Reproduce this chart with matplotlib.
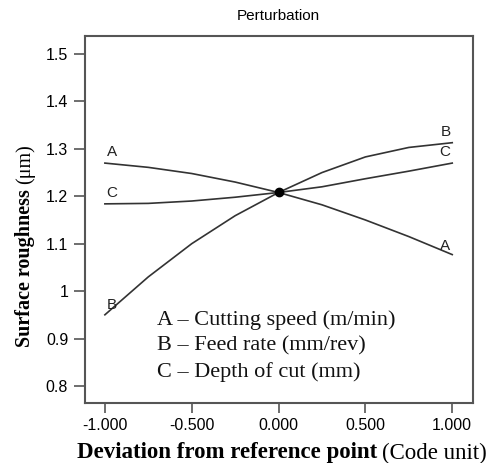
import matplotlib
matplotlib.use("Agg")
import matplotlib.pyplot as plt

x = [-1.0, -0.75, -0.5, -0.25, 0.0, 0.25, 0.5, 0.75, 1.0]
series_A = [1.270, 1.261, 1.248, 1.230, 1.208, 1.182, 1.150, 1.115, 1.077]
series_B = [0.950, 1.030, 1.100, 1.159, 1.208, 1.250, 1.283, 1.303, 1.313]
series_C = [1.184, 1.185, 1.190, 1.198, 1.208, 1.220, 1.237, 1.253, 1.270]
ref_point = (0.0, 1.208)
xticks = [-1.0, -0.5, 0.0, 0.5, 1.0]
xtick_labels = ["-1.000", "-0.500", "0.000", "0.500", "1.000"]
yticks = [0.8, 0.9, 1.0, 1.1, 1.2, 1.3, 1.4, 1.5]
ytick_labels = ["0.8", "0.9", "1", "1.1", "1.2", "1.3", "1.4", "1.5"]
legend_lines = ["A \u2013 Cutting speed (m/min)", "B \u2013 Feed rate (mm/rev)", "C \u2013 Depth of cut (mm)"]

sans = ["Liberation Sans", "DejaVu Sans"]
serif = ["Liberation Serif", "DejaVu Serif"]

fig = plt.figure(figsize=(4.88, 4.63), dpi=100)
ax = fig.add_axes([0.174, 0.1296, 0.7947, 0.7926])

lc = "#333333"
ax.plot(x, series_A, color=lc, lw=1.2)
ax.plot(x, series_B, color=lc, lw=1.2)
ax.plot(x, series_C, color=lc, lw=1.2)
ax.plot([ref_point[0]], [ref_point[1]], "o", color="black", ms=6)

ax.set_xlim(-1.115, 1.118)
ax.set_ylim(0.764, 1.538)
ax.set_xticks(xticks)
ax.set_xticklabels(xtick_labels, family=sans, fontsize=11.5)
ax.set_yticks(yticks)
ax.set_yticklabels(ytick_labels, family=sans, fontsize=11.5)
ax.tick_params(axis="y", direction="out", length=8, width=1.2, color="#555555", pad=4)
ax.tick_params(axis="x", direction="out", length=7, width=1.2, color="#555555", pad=4)
for s in ax.spines.values():
    s.set_color("#555555")
    s.set_linewidth(1.5)

# curve labels
lab = dict(family=sans, fontsize=11, color="#222222")
ax.text(-0.99, series_A[0] + 0.008, "A", ha="left", va="bottom", **lab)
ax.text(-0.99, series_C[0] + 0.008, "C", ha="left", va="bottom", **lab)
ax.text(-0.99, series_B[0] + 0.005, "B", ha="left", va="bottom", **lab)
ax.text(0.99, series_B[-1] + 0.008, "B", ha="right", va="bottom", **lab)
ax.text(0.99, series_C[-1] + 0.008, "C", ha="right", va="bottom", **lab)
ax.text(0.99, series_A[-1] + 0.003, "A", ha="right", va="bottom", **lab)

# legend text
for i, t in enumerate(legend_lines):
    ax.text(-0.698, 0.939 - i * 0.055, t, family=serif, fontsize=16,
            ha="left", va="center", color="#111111")

fig.text(0.571, 0.965, "Perturbation", family=sans, fontsize=11, ha="center", va="center")

# axis labels with bold + normal parts
fig.canvas.draw()
r = fig.canvas.get_renderer()
t1 = fig.text(0.158, 0.0216, "Deviation from reference point", family=serif,
              fontweight="bold", fontsize=16.5, ha="left", va="center")
bb = t1.get_window_extent(r)
fig.text((bb.x1 + 5) / fig.bbox.width, 0.0216, "(Code unit)", family=serif,
         fontsize=16.5, ha="left", va="center")

t2 = fig.text(0.051, 0.25, "Surface roughness", family=serif, fontweight="bold",
              fontsize=14.5, rotation=90, ha="center", va="bottom")
bb2 = t2.get_window_extent(r)
fig.text(0.051, (bb2.y1 + 5) / fig.bbox.height, "(\u03bcm)", family=serif,
         fontsize=14.5, rotation=90, ha="center", va="bottom")

fig.savefig("out.png", dpi=100)
